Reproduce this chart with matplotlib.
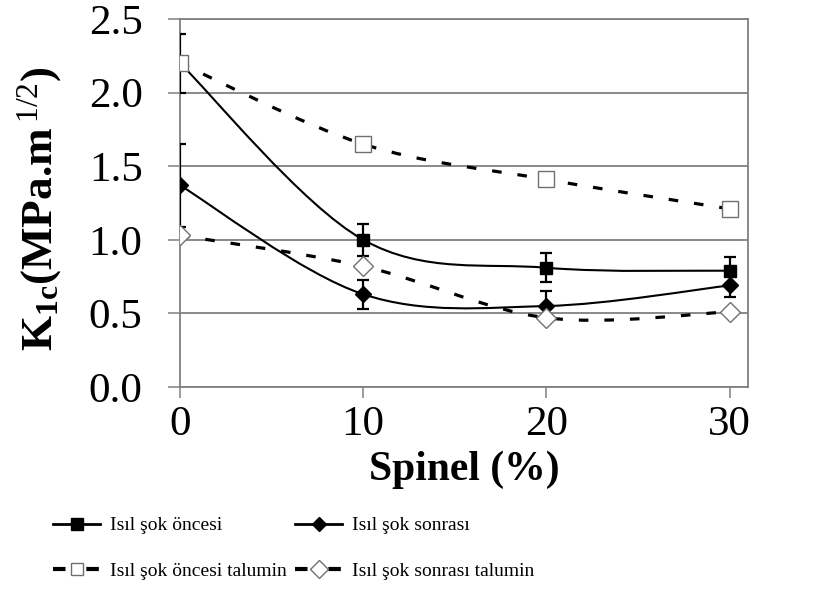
import matplotlib
matplotlib.use("Agg")
import matplotlib.pyplot as plt
import numpy as np
from matplotlib.lines import Line2D
from matplotlib.patches import PathPatch
from matplotlib.path import Path

plt.rcParams["font.family"] = ["Liberation Serif", "DejaVu Serif"]
plt.rcParams["mathtext.default"] = "regular"
plt.rcParams["mathtext.fontset"] = "custom"
plt.rcParams["mathtext.rm"] = "Liberation Serif"

# data
spinel = [0, 10, 20, 30]
oncesi = [2.20, 1.00, 0.81, 0.79]
oncesi_err = [0.20, 0.11, 0.10, 0.09]
sonrasi = [1.37, 0.63, 0.55, 0.69]
sonrasi_err = [0.28, 0.10, 0.10, 0.08]
oncesi_talumin = [2.20, 1.65, 1.41, 1.21]
sonrasi_talumin = [1.03, 0.82, 0.47, 0.51]

labels = ["Isıl şok öncesi", "Isıl şok sonrası",
          "Isıl şok öncesi talumin", "Isıl şok sonrası talumin"]
yticks = [0.0, 0.5, 1.0, 1.5, 2.0, 2.5]
xticks = [0, 10, 20, 30]

GRID = "#808080"
DASH = (0, (3, 5))


def smooth_path(xs, ys):
    """Excel-like smoothed line: Catmull-Rom segments as cubic Beziers."""
    p = np.column_stack([xs, ys]).astype(float)
    n = len(p)
    verts, codes = [p[0]], [Path.MOVETO]
    for i in range(n - 1):
        p0, p1 = p[max(i - 1, 0)], p[i]
        p2, p3 = p[i + 1], p[min(i + 2, n - 1)]
        verts += [p1 + (p2 - p0) / 6, p2 - (p3 - p1) / 6, p2]
        codes += [Path.CURVE4] * 3
    return Path(verts, codes)


fig = plt.figure(figsize=(8.35, 5.9), dpi=100)
ax = fig.add_axes([0.2156, 0.3441, 0.6802, 0.6237])

ax.set_xlim(0, 31)
ax.set_ylim(0, 2.5)
ax.set_yticks(yticks)
ax.set_yticklabels([f"{v:.1f}" for v in yticks])
ax.set_xticks(xticks)
ax.yaxis.grid(True, color=GRID, lw=1.3)
ax.set_axisbelow(True)
for s in ax.spines.values():
    s.set_color(GRID)
    s.set_linewidth(1.3)
ax.tick_params(axis="y", length=9, width=1.1, color=GRID, pad=18, labelsize=31)
ax.tick_params(axis="x", length=8, width=1.1, color=GRID, pad=5, labelsize=31)

# smoothed curves
for ys, ls, lw in [(oncesi, "-", 1.5), (sonrasi, "-", 1.5),
                   (oncesi_talumin, DASH, 2.3), (sonrasi_talumin, DASH, 2.3)]:
    ax.add_patch(PathPatch(smooth_path(spinel, ys), fill=False, ec="black",
                           lw=lw, ls=ls, zorder=3, capstyle="butt"))

# measured points with error bars
ax.errorbar(spinel, oncesi, yerr=oncesi_err, fmt="s", color="black", ms=9,
            elinewidth=1.6, capsize=4.3, capthick=1.6, zorder=4)
ax.errorbar(spinel, sonrasi, yerr=sonrasi_err, fmt="D", color="black", ms=8,
            elinewidth=1.6, capsize=4.3, capthick=1.6, zorder=4)
ax.plot(spinel, oncesi_talumin, "s", ms=11, mfc="white", mec="#707070",
        mew=1.0, zorder=5)
ax.plot(spinel, sonrasi_talumin, "D", ms=10, mfc="white", mec="#707070",
        mew=1.0, zorder=5)

ax.set_xlabel("Spinel (%)", fontsize=30, fontweight="bold", labelpad=5)
ax.set_ylabel("K$_{1c}$(MPa.m$^{\\,\\mathrm{1/2}}$)", fontsize=32.5,
              fontweight="bold")
ax.yaxis.set_label_coords(-0.205, 0.485)

handles = [
    Line2D([], [], color="black", lw=2, marker="s", ms=8),
    Line2D([], [], color="black", lw=2, marker="D", ms=7),
    Line2D([], [], color="black", lw=3, ls=DASH, marker="s", ms=9,
           mfc="white", mec="#707070", mew=1.0),
    Line2D([], [], color="black", lw=3, ls=DASH, marker="D", ms=9,
           mfc="white", mec="#707070", mew=1.0),
]
fig.legend([handles[0], handles[2], handles[1], handles[3]],
           [labels[0], labels[2], labels[1], labels[3]],
           ncol=2, loc="upper left", bbox_to_anchor=(0.064, 0.124),
           frameon=False, fontsize=14, handlelength=2.4, handletextpad=0.5,
           columnspacing=0.45, labelspacing=1.45, borderaxespad=0,
           borderpad=0)

fig.savefig("out.png", dpi=100)
